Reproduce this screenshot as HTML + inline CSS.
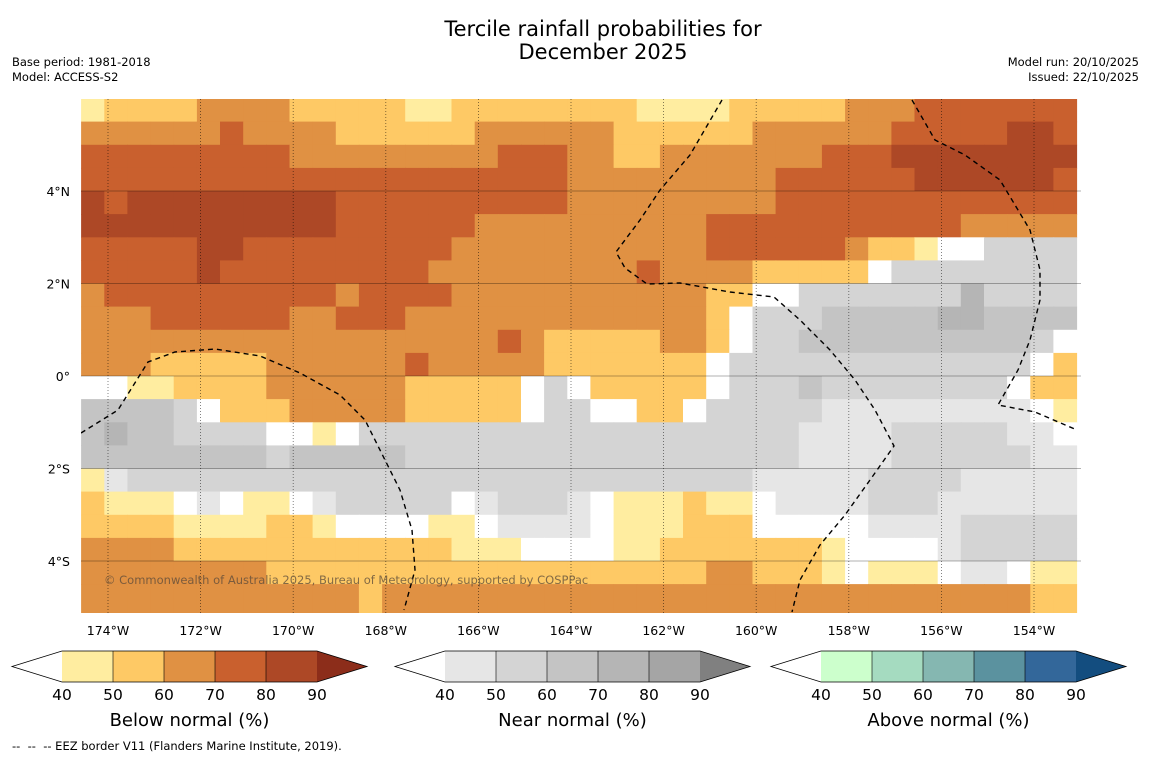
<!DOCTYPE html>
<html><head><meta charset="utf-8">
<style>
body{margin:0;background:#fff;font-family:"DejaVu Sans","Liberation Sans",sans-serif;}
#wrap{position:relative;width:1150px;height:758px;overflow:hidden;background:#fff;}
.t{position:absolute;white-space:nowrap;color:#000;}
</style></head>
<body>
<div id="wrap">
<div class="t" style="left:303px;top:18px;width:600px;text-align:center;font-size:21px;line-height:23px;">Tercile rainfall probabilities for<br>December 2025</div>
<div class="t" style="left:12px;top:55px;font-size:11.5px;line-height:15px;">Base period: 1981-2018<br>Model: ACCESS-S2</div>
<div class="t" style="right:11px;top:55px;font-size:11.5px;line-height:15px;text-align:right;">Model run: 20/10/2025<br>Issued: 22/10/2025</div>
<svg id="map" width="1150" height="758" style="position:absolute;left:0;top:0"></svg>
<div class="t" style="left:12px;top:739px;font-size:11.5px;">--&nbsp; --&nbsp; -- EEZ border V11 (Flanders Marine Institute, 2019).</div>
</div>
<script>
// ---- data ----
const lonStart = -174.58;      // western edge of grid (degrees)
const latStart = 6.0;          // northern edge of grid
const cellDeg = 0.5;
const latTicks = [4, 2, 0, -2, -4];
const latTickLabels = ["4°N", "2°N", "0°", "2°S", "4°S"];
const lonTicks = [-174, -172, -170, -168, -166, -164, -162, -160, -158, -156, -154];
const lonTickLabels = ["174°W","172°W","170°W","168°W","166°W","164°W","162°W","160°W","158°W","156°W","154°W"];
const cbTicks = [40, 50, 60, 70, 80, 90];
const cbTitles = ["Below normal (%)", "Near normal (%)", "Above normal (%)"];
const belowColors = ["#ffeda0","#fec965","#e09143","#c9602e","#ad4826","#8c2d1a"];
const nearColors = ["#e6e6e6","#d4d4d4","#c4c4c4","#b5b5b5","#a5a5a5","#808080"];
const aboveColors = ["#ccffcc","#a5dbc0","#85b7b1","#5b929f","#33679a","#134d7f"];
// category codes (run-length, code x count): W <40 white, 1-5 below-normal bins, a-d near-normal bins
const rows = [
"1x1 2x4 3x4 2x5 1x2 2x8 1x4 2x5 3x3 4x7",
"3x6 4x1 3x4 2x6 3x6 2x6 3x6 4x5 5x2 4x1",
"4x9 3x9 4x3 3x2 2x2 3x7 4x3 5x8",
"4x21 3x9 4x6 5x6 4x1",
"5x1 4x1 5x9 4x10 3x9 4x13",
"5x11 4x6 3x10 4x11 3x5",
"4x5 5x2 4x9 3x11 4x6 3x1 2x2 1x1 Wx2 bx4",
"4x5 5x1 4x9 3x9 4x1 3x4 2x5 Wx1 bx8",
"3x1 4x10 3x1 4x4 3x11 2x2 Wx2 bx7 dx1 bx4",
"3x3 4x6 3x2 4x3 3x13 2x1 Wx1 bx3 cx5 dx2 cx4",
"3x18 4x1 3x1 2x5 3x2 2x1 Wx1 bx2 cx10 bx1 Wx1",
"3x3 2x5 3x6 4x1 3x5 2x7 Wx1 bx13 Wx1 2x1",
"Wx2 1x2 2x4 3x6 2x5 Wx1 bx1 Wx1 2x5 Wx1 bx3 cx1 bx8 Wx1 2x2",
"cx4 bx1 Wx1 2x3 3x5 2x5 Wx1 bx2 Wx2 2x2 Wx1 bx5 ax9 Wx1 1x1",
"cx1 dx1 cx2 bx4 Wx2 1x1 Wx1 bx19 ax4 bx5 ax2 Wx1",
"cx8 bx1 cx5 bx17 ax4 bx6 ax2",
"1x1 ax1 bx27 ax5 bx4 ax5",
"2x1 1x3 Wx1 ax1 Wx1 1x2 Wx1 ax1 bx5 Wx1 ax1 bx3 ax1 Wx1 1x3 2x1 1x2 Wx1 ax4 bx3 ax6",
"2x4 1x4 2x2 1x1 Wx4 1x2 Wx1 ax4 Wx1 1x3 2x3 Wx5 ax4 bx5",
"3x4 2x12 1x3 Wx4 1x2 2x7 1x1 Wx4 ax1 bx5",
"3x8 2x14 2x5 3x2 2x3 1x1 Wx1 1x3 Wx1 ax2 Wx1 1x2",
"3x12 2x1 3x28 2x2"
];
const below = {"1":0,"2":1,"3":2,"4":3,"5":4};
const near = {"a":0,"b":1,"c":2,"d":3};

// ---- axes ----
const mapL=81, mapR=1081, mapT=99, mapB=613;
function xOf(lon){ return 108 + (lon + 174) * 46.3; }
function yOf(lat){ return 376 - lat * 46.25; }

const NS="http://www.w3.org/2000/svg";
const svg=document.getElementById('map');
function mk(tag, attrs, parent){ const e=document.createElementNS(NS,tag); for(const k in attrs) e.setAttribute(k,attrs[k]); (parent||svg).appendChild(e); return e; }
const FONT='DejaVu Sans, Liberation Sans, sans-serif';

const defs=mk('defs',{});
const cp=mk('clipPath',{id:'mapclip'},defs);
mk('rect',{x:mapL,y:mapT,width:mapR-mapL,height:mapB-mapT},cp);

const g=mk('g',{'clip-path':'url(#mapclip)'});


mk('rect',{x:mapL,y:mapT,width:mapR-mapL,height:mapB-mapT,fill:'#ffffff'},g);

function colorFor(ch){
  if(ch in below) return belowColors[below[ch]];
  if(ch in near) return nearColors[near[ch]];
  return '#ffffff';
}
function expand(rle){
  let s='';
  rle.trim().split(/\s+/).forEach(tok=>{ const p=tok.split('x'); s+=p[0].repeat(parseInt(p[1],10)); });
  while(s.length<43) s+=s[s.length-1];
  return s.slice(0,43);
}
rows.forEach((rle,j)=>{
  const r=expand(rle);
  for(let i=0;i<43;i++){
    const ch=r[i];
    const lonA=lonStart+i*cellDeg, lonB=lonA+cellDeg;
    const latA=latStart-j*cellDeg, latB=latA-cellDeg;
    const x0=xOf(lonA), x1=xOf(lonB), y0=yOf(latA);
    let y1=yOf(latB);
    if(j===rows.length-1) y1=mapB+2;
    const c=mk('rect',{x:x0.toFixed(1),y:y0.toFixed(1),width:(x1-x0+0.6).toFixed(1),height:(y1-y0+0.6).toFixed(1),fill:colorFor(ch)},g);
    
    
  }
});

// gridlines
latTicks.forEach((lat,k)=>{
  const l=mk('line',{x1:mapL,x2:mapR,y1:yOf(lat),y2:yOf(lat),stroke:'#000','stroke-opacity':0.3,'stroke-width':1},g);
  
  
  const t=mk('text',{x:70,y:yOf(lat)+5,'text-anchor':'end','font-size':12.5,'font-family':FONT,fill:'#000'});
  t.textContent=latTickLabels[k];
  
  
});
lonTicks.forEach((lon,k)=>{
  const l=mk('line',{x1:xOf(lon),x2:xOf(lon),y1:mapT,y2:mapB,stroke:'#000','stroke-opacity':0.6,'stroke-width':0.8,'stroke-dasharray':'1,2'},g);
  
  
  const t=mk('text',{x:xOf(lon),y:635,'text-anchor':'middle','font-size':12.5,'font-family':FONT,fill:'#000'});
  t.textContent=lonTickLabels[k];
  
  
});

// EEZ borders
const eez=[
 "M81,433 L118,410 L148,362 L175,352 L215,349 L260,356 L300,373 L340,395 L365,420 L385,460 L400,490 L412,530 L415,570 L404,610",
 "M722,100 L690,155 L660,190 L640,220 L616,252 L625,268 L647,284 L680,283 L730,292 L774,297 L800,320 L830,350 L855,380 L875,410 L894,446 L870,480 L845,515 L820,545 L800,580 L792,612",
 "M912,100 L935,140 L965,155 L1000,180 L1030,230 L1040,270 L1040,300 L1030,340 L1018,370 L998,405 L1035,412 L1077,430"
];
eez.forEach(d=>{
  const p=mk('path',{d:d,fill:'none',stroke:'#000','stroke-width':1.4,'stroke-dasharray':'5,4'},g);
  
  
});
const cr=mk('text',{x:104,y:584,'font-size':11.5,'font-family':FONT,fill:'#5a4a3a','fill-opacity':0.75},g);
cr.textContent="© Commonwealth of Australia 2025, Bureau of Meteorology, supported by COSPPac";



// colorbars
const cbLeft=[62,445,821];
const cbSets=[belowColors,nearColors,aboveColors];
const boxW=51, cbT=651, cbH=31;
cbSets.forEach((cols,n)=>{
  const L=cbLeft[n];
  const cg=mk('g',{});
  
  
  mk('polygon',{points:`${L},${cbT} ${L-50},${cbT+cbH/2} ${L},${cbT+cbH}`,fill:'#fff'},cg);
  for(let k=0;k<5;k++){
    mk('rect',{x:L+k*boxW,y:cbT,width:boxW,height:cbH,fill:cols[k]},cg);
  }
  const R=L+5*boxW;
  mk('polygon',{points:`${R},${cbT} ${R+50},${cbT+cbH/2} ${R},${cbT+cbH}`,fill:cols[5]},cg);
  mk('path',{d:`M${L},${cbT} L${R},${cbT} L${R+50},${cbT+cbH/2} L${R},${cbT+cbH} L${L},${cbT+cbH} L${L-50},${cbT+cbH/2} Z`,fill:'none',stroke:'#000','stroke-width':0.8},cg);
  for(let k=1;k<5;k++) mk('line',{x1:L+k*boxW,x2:L+k*boxW,y1:cbT,y2:cbT+cbH,stroke:'#000','stroke-width':0.6},cg);
  cbTicks.forEach((v,k)=>{
    const t=mk('text',{x:L+k*boxW,y:cbT+cbH+18,'text-anchor':'middle','font-size':15.5,'font-family':FONT},cg);
    t.textContent=v;
    
    
  });
  const tt=mk('text',{x:L+2.5*boxW,y:726,'text-anchor':'middle','font-size':18,'font-family':FONT},cg);
  tt.textContent=cbTitles[n];
  
  
});
</script>
</body></html>
